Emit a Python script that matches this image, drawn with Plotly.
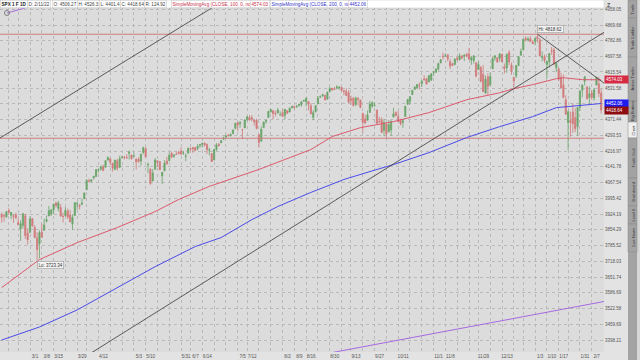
import math
import bisect
import plotly.graph_objects as go

# ---------------- data (SPX daily) ----------------
dates = [
    "2021-02-10","2021-02-11","2021-02-12","2021-02-16","2021-02-17","2021-02-18","2021-02-19","2021-02-22","2021-02-23","2021-02-24","2021-02-25","2021-02-26",
    "2021-03-01","2021-03-02","2021-03-03","2021-03-04","2021-03-05","2021-03-08","2021-03-09","2021-03-10","2021-03-11","2021-03-12","2021-03-15","2021-03-16","2021-03-17","2021-03-18","2021-03-19","2021-03-22","2021-03-23","2021-03-24","2021-03-25","2021-03-26","2021-03-29","2021-03-30","2021-03-31",
    "2021-04-01","2021-04-05","2021-04-06","2021-04-07","2021-04-08","2021-04-09","2021-04-12","2021-04-13","2021-04-14","2021-04-15","2021-04-16","2021-04-19","2021-04-20","2021-04-21","2021-04-22","2021-04-23","2021-04-26","2021-04-27","2021-04-28","2021-04-29","2021-04-30",
    "2021-05-03","2021-05-04","2021-05-05","2021-05-06","2021-05-07","2021-05-10","2021-05-11","2021-05-12","2021-05-13","2021-05-14","2021-05-17","2021-05-18","2021-05-19","2021-05-20","2021-05-21","2021-05-24","2021-05-25","2021-05-26","2021-05-27","2021-05-28",
    "2021-06-01","2021-06-02","2021-06-03","2021-06-04","2021-06-07","2021-06-08","2021-06-09","2021-06-10","2021-06-11","2021-06-14","2021-06-15","2021-06-16","2021-06-17","2021-06-18","2021-06-21","2021-06-22","2021-06-23","2021-06-24","2021-06-25","2021-06-28","2021-06-29","2021-06-30",
    "2021-07-01","2021-07-02","2021-07-06","2021-07-07","2021-07-08","2021-07-09","2021-07-12","2021-07-13","2021-07-14","2021-07-15","2021-07-16","2021-07-19","2021-07-20","2021-07-21","2021-07-22","2021-07-23","2021-07-26","2021-07-27","2021-07-28","2021-07-29","2021-07-30",
    "2021-08-02","2021-08-03","2021-08-04","2021-08-05","2021-08-06","2021-08-09","2021-08-10","2021-08-11","2021-08-12","2021-08-13","2021-08-16","2021-08-17","2021-08-18","2021-08-19","2021-08-20","2021-08-23","2021-08-24","2021-08-25","2021-08-26","2021-08-27","2021-08-30","2021-08-31",
    "2021-09-01","2021-09-02","2021-09-03","2021-09-07","2021-09-08","2021-09-09","2021-09-10","2021-09-13","2021-09-14","2021-09-15","2021-09-16","2021-09-17","2021-09-20","2021-09-21","2021-09-22","2021-09-23","2021-09-24","2021-09-27","2021-09-28","2021-09-29","2021-09-30",
    "2021-10-01","2021-10-04","2021-10-05","2021-10-06","2021-10-07","2021-10-08","2021-10-11","2021-10-12","2021-10-13","2021-10-14","2021-10-15","2021-10-18","2021-10-19","2021-10-20","2021-10-21","2021-10-22","2021-10-25","2021-10-26","2021-10-27","2021-10-28","2021-10-29",
    "2021-11-01","2021-11-02","2021-11-03","2021-11-04","2021-11-05","2021-11-08","2021-11-09","2021-11-10","2021-11-11","2021-11-12","2021-11-15","2021-11-16","2021-11-17","2021-11-18","2021-11-19","2021-11-22","2021-11-23","2021-11-24","2021-11-26","2021-11-29","2021-11-30",
    "2021-12-01","2021-12-02","2021-12-03","2021-12-06","2021-12-07","2021-12-08","2021-12-09","2021-12-10","2021-12-13","2021-12-14","2021-12-15","2021-12-16","2021-12-17","2021-12-20","2021-12-21","2021-12-22","2021-12-23","2021-12-27","2021-12-28","2021-12-29","2021-12-30","2021-12-31",
    "2022-01-03","2022-01-04","2022-01-05","2022-01-06","2022-01-07","2022-01-10","2022-01-11","2022-01-12","2022-01-13","2022-01-14","2022-01-18","2022-01-19","2022-01-20","2022-01-21","2022-01-24","2022-01-25","2022-01-26","2022-01-27","2022-01-28","2022-01-31",
    "2022-02-01","2022-02-02","2022-02-03","2022-02-04","2022-02-07","2022-02-08","2022-02-09","2022-02-10","2022-02-11",
]

opens = [
    3920.78,3916.40,3911.65,3939.61,3918.50,3915.86,3921.16,3885.55,3857.07,3873.71,3915.80,3839.66,
    3842.51,3903.64,3863.99,3818.53,3793.58,3844.39,3851.93,3891.99,3915.54,3924.52,3942.96,3973.59,3949.57,3953.50,3913.14,3916.48,3937.60,3919.93,3879.34,3917.12,3969.31,3963.34,3967.25,
    3992.78,4034.44,4075.57,4074.29,4089.95,4096.11,4124.71,4130.10,4141.58,4139.76,4174.14,4179.80,4159.18,4128.42,4170.46,4138.78,4185.03,4188.25,4185.14,4206.14,4198.10,
    4191.98,4179.04,4177.06,4169.14,4210.34,4228.29,4150.34,4130.55,4074.99,4129.58,4169.92,4165.94,4098.45,4121.97,4168.61,4170.16,4205.94,4191.59,4201.94,4210.77,
    4216.52,4206.82,4191.43,4206.05,4229.34,4233.81,4232.99,4228.56,4242.90,4248.31,4255.28,4248.87,4220.37,4204.78,4173.40,4224.61,4249.27,4256.97,4274.45,4284.90,4293.21,4290.65,
    4300.73,4326.60,4356.46,4351.01,4321.07,4329.38,4372.41,4381.07,4380.11,4369.02,4367.43,4296.40,4265.11,4331.13,4361.27,4381.20,4409.58,4416.38,4402.95,4403.59,4395.12,
    4406.86,4392.74,4415.95,4408.86,4429.07,4437.77,4435.79,4442.18,4446.08,4464.84,4461.65,4462.12,4440.94,4382.44,4410.56,4450.29,4484.40,4490.45,4493.75,4474.10,4513.76,4529.75,
    4528.80,4534.48,4532.42,4535.38,4518.09,4513.02,4506.92,4474.81,4479.33,4447.49,4477.09,4469.74,4402.95,4374.45,4367.43,4406.75,4438.04,4442.12,4419.54,4362.41,4370.67,
    4317.16,4348.84,4309.87,4319.57,4383.73,4406.51,4385.44,4368.31,4358.01,4386.75,4447.69,4463.72,4497.34,4524.42,4532.24,4546.12,4553.69,4578.69,4580.22,4562.84,4572.87,
    4610.62,4613.34,4630.65,4662.93,4699.26,4701.48,4707.25,4670.26,4659.39,4655.24,4689.30,4679.42,4701.50,4700.72,4708.44,4712.00,4678.48,4675.78,4664.63,4628.75,4640.25,
    4602.82,4504.73,4589.49,4548.37,4631.97,4690.86,4691.00,4687.64,4710.30,4642.99,4636.46,4719.13,4652.50,4587.90,4594.96,4650.36,4703.96,4733.99,4795.49,4788.64,4794.23,4775.21,
    4778.14,4804.51,4787.99,4693.39,4697.66,4655.34,4669.14,4728.59,4733.56,4637.99,4632.24,4588.03,4547.35,4471.38,4356.32,4366.64,4408.43,4380.58,4336.19,4431.79,
    4519.57,4566.39,4535.41,4482.79,4505.75,4480.02,4547.00,4553.24,4506.27,
]

highs = [
    3931.50,3925.99,3937.23,3950.43,3933.61,3921.98,3930.41,3902.92,3895.98,3928.65,3925.02,3861.08,
    3914.50,3906.41,3874.47,3843.67,3851.69,3881.06,3903.76,3917.35,3960.27,3944.99,3970.08,3981.04,3983.87,3969.62,3930.12,3955.31,3949.13,3942.08,3919.54,3978.19,3981.83,3968.01,3994.41,
    4020.63,4083.42,4086.23,4083.13,4098.19,4129.48,4131.76,4148.00,4151.69,4173.49,4191.31,4180.81,4159.18,4175.02,4179.57,4194.17,4194.19,4193.35,4201.53,4218.78,4198.10,
    4209.39,4179.04,4187.72,4202.70,4238.04,4236.39,4162.04,4134.73,4131.58,4183.13,4171.92,4169.15,4116.93,4172.80,4188.72,4209.52,4213.42,4202.61,4213.38,4218.36,
    4234.12,4217.37,4204.39,4233.45,4232.34,4236.74,4237.09,4249.74,4248.38,4255.59,4257.16,4251.89,4232.29,4204.78,4226.24,4255.84,4256.60,4271.28,4286.12,4292.14,4300.52,4302.43,
    4320.66,4355.43,4356.46,4361.88,4324.32,4371.60,4386.68,4392.37,4393.68,4369.02,4375.09,4296.40,4336.84,4359.70,4369.87,4415.18,4422.73,4416.38,4415.47,4429.97,4412.25,
    4422.18,4423.79,4416.17,4429.76,4440.82,4439.39,4445.21,4449.44,4461.77,4468.37,4480.26,4462.12,4454.32,4418.61,4444.35,4489.88,4492.81,4501.71,4495.90,4513.33,4537.36,4531.39,
    4537.11,4545.85,4541.45,4535.38,4521.79,4529.90,4520.47,4492.99,4485.68,4486.87,4485.87,4471.52,4402.95,4394.87,4416.75,4465.40,4463.12,4457.30,4419.54,4385.57,4382.55,
    4375.19,4355.51,4369.23,4365.57,4429.97,4412.02,4415.88,4374.89,4372.87,4439.73,4475.82,4488.75,4520.40,4540.87,4551.44,4559.67,4572.62,4598.53,4584.57,4597.55,4608.08,
    4620.34,4635.15,4663.46,4683.00,4718.50,4714.92,4708.53,4684.85,4664.55,4688.47,4697.42,4714.95,4701.50,4708.80,4717.75,4743.83,4699.39,4702.87,4664.63,4672.95,4646.02,
    4652.94,4595.46,4608.03,4612.60,4694.04,4705.06,4695.26,4713.57,4710.30,4660.47,4712.60,4731.99,4666.70,4587.90,4651.14,4697.67,4740.74,4791.49,4807.02,4804.06,4808.93,4786.83,
    4796.64,4818.62,4797.70,4725.01,4707.95,4673.02,4714.13,4748.83,4744.13,4665.13,4632.24,4611.55,4602.11,4494.52,4417.35,4411.01,4453.23,4428.74,4432.72,4516.89,
    4550.49,4595.31,4542.88,4539.66,4521.86,4531.32,4590.03,4588.92,4526.33,
]

lows = [
    3884.94,3890.39,3905.78,3923.85,3900.43,3885.03,3903.07,3874.71,3805.59,3859.60,3814.04,3789.54,
    3842.51,3868.57,3818.86,3723.34,3730.19,3819.25,3851.93,3885.73,3915.54,3915.21,3923.54,3953.44,3935.74,3910.86,3886.75,3914.16,3901.57,3889.07,3853.50,3917.12,3943.25,3944.35,3966.98,
    3992.78,4034.44,4068.14,4068.31,4082.54,4095.51,4114.82,4124.43,4120.87,4139.76,4170.75,4150.47,4118.38,4126.35,4123.69,4138.78,4182.36,4176.22,4181.78,4176.81,4174.85,
    4188.03,4128.59,4160.94,4147.33,4201.64,4188.13,4111.53,4056.88,4074.99,4129.58,4142.69,4125.99,4061.41,4121.97,4151.72,4170.16,4182.52,4184.11,4197.78,4203.57,
    4197.59,4198.27,4167.93,4206.05,4215.66,4208.41,4218.74,4220.34,4232.25,4234.07,4238.35,4202.45,4196.05,4164.40,4173.40,4217.27,4241.43,4256.97,4271.16,4274.67,4287.04,4287.96,
    4300.73,4326.60,4314.37,4329.79,4273.99,4329.38,4364.03,4366.92,4362.36,4340.70,4322.53,4233.13,4262.05,4331.13,4350.06,4381.20,4405.45,4372.51,4387.01,4403.59,4389.65,
    4384.81,4373.00,4400.23,4408.86,4429.07,4424.74,4430.03,4436.42,4435.96,4460.82,4437.66,4417.83,4397.59,4367.73,4406.80,4450.29,4482.28,4485.66,4468.99,4474.10,4513.76,4515.80,
    4522.02,4524.66,4521.94,4513.00,4493.95,4492.07,4457.66,4445.70,4435.46,4438.37,4443.80,4427.76,4305.91,4347.96,4367.43,4406.75,4430.27,4436.19,4346.33,4355.08,4306.24,
    4288.52,4278.94,4309.87,4290.49,4383.73,4386.22,4360.59,4342.09,4329.92,4386.75,4447.69,4447.47,4496.41,4524.40,4526.89,4524.00,4537.36,4569.17,4551.66,4562.84,4567.59,
    4595.06,4613.34,4621.19,4662.59,4681.32,4694.39,4670.87,4630.86,4648.31,4650.77,4672.86,4679.42,4684.41,4672.78,4694.22,4682.17,4652.66,4659.89,4585.43,4625.26,4560.00,
    4510.27,4504.73,4495.12,4540.51,4631.97,4674.52,4665.98,4670.24,4667.60,4606.52,4611.22,4651.89,4600.22,4531.10,4583.16,4645.53,4703.96,4733.99,4780.04,4778.08,4775.33,4765.75,
    4758.17,4774.27,4699.44,4671.26,4662.74,4582.24,4638.27,4706.71,4650.29,4614.75,4568.70,4530.20,4477.95,4395.34,4222.62,4287.11,4304.80,4309.50,4292.46,4414.02,
    4483.53,4544.32,4470.39,4451.50,4471.47,4465.40,4547.00,4484.31,4401.41,
]

closes = [
    3909.88,3916.38,3934.83,3932.59,3931.33,3913.97,3906.71,3876.50,3881.37,3925.43,3829.34,3811.15,
    3901.82,3870.29,3819.72,3768.47,3841.94,3821.35,3875.44,3898.81,3939.34,3943.34,3968.94,3962.71,3974.12,3915.46,3913.10,3940.59,3910.52,3889.14,3909.52,3974.54,3971.09,3958.55,3972.89,
    4019.87,4077.91,4073.94,4079.95,4097.17,4128.80,4127.99,4141.59,4124.66,4170.42,4185.47,4163.26,4134.94,4173.42,4134.98,4180.17,4187.62,4186.72,4183.18,4211.47,4181.17,
    4192.66,4164.66,4167.59,4201.62,4232.60,4188.43,4152.10,4063.04,4112.50,4173.85,4163.29,4127.83,4115.68,4159.12,4155.86,4197.05,4188.13,4195.99,4200.88,4204.11,
    4202.04,4208.12,4192.85,4229.89,4226.52,4227.26,4219.55,4239.18,4247.44,4255.15,4246.59,4223.70,4221.86,4166.45,4224.79,4246.44,4241.84,4266.49,4280.70,4290.61,4291.80,4297.50,
    4319.94,4352.34,4343.54,4358.13,4320.82,4369.55,4384.63,4369.21,4374.30,4360.03,4327.16,4258.49,4323.06,4358.69,4367.48,4411.79,4422.30,4401.46,4400.64,4419.15,4395.26,
    4387.16,4423.15,4402.66,4429.10,4436.52,4432.35,4436.75,4447.70,4460.83,4468.00,4479.71,4448.08,4400.27,4405.80,4441.67,4479.53,4486.23,4496.19,4470.00,4509.37,4528.79,4522.68,
    4524.09,4536.95,4535.43,4520.03,4514.07,4493.28,4458.58,4468.73,4443.05,4480.70,4473.75,4432.99,4357.73,4354.19,4395.64,4448.98,4455.48,4443.11,4352.63,4359.46,4307.54,
    4357.04,4300.46,4345.72,4363.55,4399.76,4391.34,4361.19,4350.65,4363.80,4438.26,4471.37,4486.46,4519.63,4536.19,4549.78,4544.90,4566.48,4574.79,4551.68,4596.42,4605.38,
    4613.67,4630.65,4660.57,4680.06,4697.53,4701.70,4685.25,4646.71,4649.27,4682.85,4682.80,4700.90,4688.67,4704.54,4697.96,4682.94,4690.70,4701.46,4594.62,4655.27,4567.00,
    4513.04,4577.10,4538.43,4591.67,4686.75,4701.21,4667.45,4712.02,4668.97,4634.09,4709.85,4668.67,4620.64,4568.02,4649.23,4696.56,4725.79,4791.19,4786.35,4793.06,4778.73,4766.18,
    4796.56,4793.54,4700.58,4696.05,4677.03,4670.29,4713.07,4726.35,4659.03,4662.85,4577.11,4532.76,4482.73,4397.94,4410.13,4356.45,4349.93,4326.51,4431.85,4515.55,
    4546.54,4589.38,4477.44,4500.53,4483.87,4521.54,4587.18,4504.08,4418.64,
]

# Simple moving averages
sma100_dates = ["2021-02-10","2021-03-05","2021-03-29","2021-04-22","2021-05-14","2021-05-28","2021-06-17","2021-07-19",
                "2021-08-18","2021-08-31","2021-09-17","2021-10-07","2021-10-28","2021-11-19","2021-12-10","2021-12-20",
                "2021-12-31","2022-01-14","2022-01-20","2022-02-01","2022-02-11"]
sma100_vals = [3608, 3725, 3798, 3864, 3935, 3990, 4050, 4129, 4224, 4287, 4331, 4361, 4406, 4471, 4507, 4528,
               4549, 4580, 4585, 4575, 4574.03]

sma200_dates = ["2021-02-10","2021-03-05","2021-03-29","2021-04-22","2021-05-14","2021-06-09","2021-06-24","2021-07-14",
                "2021-07-29","2021-08-18","2021-09-08","2021-09-28","2021-10-07","2021-10-28","2021-11-19","2021-12-10",
                "2021-12-31","2022-01-14","2022-01-24","2022-02-11"]
sma200_vals = [3398, 3449, 3517, 3607, 3695, 3781, 3820, 3899, 3958, 4022, 4082, 4129, 4152, 4209, 4282, 4336,
               4386, 4431, 4436, 4452.06]

# Drawings (bar-index, price)
chan_upper_x = [-2, 95];   chan_upper_y = [4271, 5015]
chan_lower_x = [30, 258];  chan_lower_y = [3304, 4852]
down_line_x = [227, 258];  down_line_y = [4818.62, 4532]
purple_x = [136, 258];     purple_y = [3343, 3556]
purple_short_x = [2.25, 9.9]; purple_short_y = [4937, 4965]
h_levels = [4818.62, 4278.94]

# Axis ticks
week_starts = ["2021-02-15","2021-02-22","2021-03-01","2021-03-08","2021-03-15","2021-03-22","2021-03-29","2021-04-05",
               "2021-04-12","2021-04-19","2021-04-26","2021-05-03","2021-05-10","2021-05-17","2021-05-24","2021-05-31",
               "2021-06-07","2021-06-14","2021-06-21","2021-06-28","2021-07-05","2021-07-12","2021-07-19","2021-07-26",
               "2021-08-02","2021-08-09","2021-08-16","2021-08-23","2021-08-30","2021-09-06","2021-09-13","2021-09-20",
               "2021-09-27","2021-10-04","2021-10-11","2021-10-18","2021-10-25","2021-11-01","2021-11-08","2021-11-15",
               "2021-11-22","2021-11-29","2021-12-06","2021-12-13","2021-12-20","2021-12-27","2022-01-03","2022-01-10",
               "2022-01-17","2022-01-24","2022-01-31","2022-02-07"]
week_labels = ["","","3/1","3/8","3/15","","3/29","","4/12","","","5/3","5/10","","","5/31","6/7","6/14","","",
               "7/5","7/12","","","8/2","8/9","8/16","","8/30","","9/13","","9/27","","10/11","","","11/1","11/8","",
               "","11/29","","12/13","","","1/3","1/10","1/17","","1/31","2/7"]
price_ticks = [4958.05, 4869.68, 4782.86, 4697.58, 4615.54, 4531.58, 4450.77, 4371.44, 4293.53, 4216.97, 4141.78,
               4067.54, 3995.42, 3924.19, 3854.29, 3785.52, 3718.03, 3651.74, 3586.69, 3522.58, 3459.69, 3398.21]

info_items = [("SPX 1 F 1D", "#222222", True), ("D: 2/11/22", "#444444", False), ("O: 4506.27", "#444444", False),
              ("H: 4526.33", "#444444", False), ("L: 4401.41", "#444444", False), ("C: 4418.64", "#444444", False),
              ("R: 124.92", "#444444", False), ("SimpleMovingAvg (CLOSE, 100, 0, no)", "#c8324a", False),
              ("4574.03", "#c8324a", False), ("SimpleMovingAvg (CLOSE, 200, 0, no)", "#3434c8", False),
              ("4452.06", "#3434c8", False)]
info_left_px = [0, 27, 52, 77, 99, 120, 144, 171, 250, 270, 348]

tabs = ["Trade", "Trade Ladder", "Active Trader", "Big Buttons", "Chart", "Trade Grid", "Dashboard", "Level II", "Live News"]
tab_edges_px = [0, 18, 57, 101, 122, 138, 178, 206, 224, 252]

# ---------------- figure ----------------
PLOT_W, PLOT_H = 604, 352
FONT = "Liberation Sans, Arial, sans-serif"
xpos = list(range(len(dates)))
pos_of = {d: i for i, d in enumerate(dates)}

fig = go.Figure()

fig.add_trace(go.Candlestick(
    x=xpos, open=opens, high=highs, low=lows, close=closes,
    increasing=dict(line=dict(color="#6aa46a", width=0.8), fillcolor="#6aa46a"),
    decreasing=dict(line=dict(color="#d27a7a", width=0.8), fillcolor="#d27a7a"),
    whiskerwidth=0, hoverinfo="skip"))

for lvl in h_levels:
    fig.add_trace(go.Scatter(x=[-5, 270], y=[lvl, lvl], mode="lines",
                             line=dict(color="#cd7d7d", width=1), hoverinfo="skip"))

fig.add_trace(go.Scatter(x=[pos_of[d] for d in sma100_dates], y=sma100_vals, mode="lines",
                         line=dict(color="#dc5a6e", width=1), hoverinfo="skip"))
fig.add_trace(go.Scatter(x=[pos_of[d] for d in sma200_dates], y=sma200_vals, mode="lines",
                         line=dict(color="#4b4bea", width=1), hoverinfo="skip"))

for lx, ly in [(chan_upper_x, chan_upper_y), (chan_lower_x, chan_lower_y), (down_line_x, down_line_y)]:
    fig.add_trace(go.Scatter(x=lx, y=ly, mode="lines", line=dict(color="#3a3a3a", width=0.8), hoverinfo="skip"))
fig.add_trace(go.Scatter(x=purple_x, y=purple_y, mode="lines", line=dict(color="#a56ae0", width=1), hoverinfo="skip"))
fig.add_trace(go.Scatter(x=purple_short_x, y=purple_short_y, mode="lines", line=dict(color="#a56ae0", width=1), hoverinfo="skip"))
fig.add_trace(go.Scatter(x=[purple_short_x[0]], y=[purple_short_y[0]], mode="markers",
                         marker=dict(symbol="circle-open", size=5, color="#808080", line=dict(width=1)), hoverinfo="skip"))

tick_pos = [bisect.bisect_left(dates, w) for w in week_starts]

fig.update_layout(
    width=640, height=360,
    margin=dict(l=0, r=640 - PLOT_W, t=0, b=360 - PLOT_H, pad=0),
    paper_bgcolor="#e3e3e3", plot_bgcolor="#dcdcdc",
    showlegend=False,
    font=dict(family=FONT, size=5, color="#555555"),
    xaxis=dict(type="linear", range=[-0.71, 255.2], tickmode="array", tickvals=tick_pos, ticktext=week_labels,
               ticks="", tickangle=0, showgrid=True, gridcolor="#b9b9b9", griddash="dot", gridwidth=1,
               zeroline=False, showline=False, tickfont=dict(size=4.6, color="#555555"),
               ticklabelshift=5, ticklabelstandoff=0,
               rangeslider=dict(visible=False), automargin=False, fixedrange=True),
    yaxis=dict(type="log", side="right", range=[3.5253, 3.6999], tickmode="array", tickvals=price_ticks,
               ticktext=[f"{v:.2f}" for v in price_ticks], ticks="", showgrid=True, gridcolor="#b9b9b9",
               griddash="dot", gridwidth=1, zeroline=False, showline=False,
               tickfont=dict(size=4.5, color="#555555"), automargin=False, fixedrange=True),
)

shapes = []
annotations = []

# info bar
bar_h = 8 / PLOT_H
shapes.append(dict(type="rect", xref="paper", yref="paper", x0=0, x1=1, y0=1 - bar_h, y1=1,
                   fillcolor="white", line=dict(color="#c4c4c4", width=0.5), layer="above"))
for (txt, col, bold), lp in zip(info_items, info_left_px):
    annotations.append(dict(xref="paper", yref="paper", x=lp / PLOT_W, y=1, xanchor="left", yanchor="top",
                            text=f"<b>{txt}</b>" if bold else txt, showarrow=False,
                            font=dict(family=FONT, size=4.6, color=col), bgcolor="white",
                            bordercolor="#c4c4c4", borderwidth=0.5, borderpad=1))

# Hi / Lo labels
hi_i = max(range(len(highs)), key=lambda i: highs[i])
lo_i = min(range(len(lows)), key=lambda i: lows[i])
annotations.append(dict(x=hi_i, y=math.log10(highs[hi_i]), xref="x", yref="y", xanchor="left", yanchor="bottom",
                        yshift=1, text=f"Hi: {highs[hi_i]:.2f}", showarrow=False,
                        font=dict(family=FONT, size=4.5, color="#333333"), bgcolor="#f2f2f2",
                        bordercolor="#8a8a8a", borderwidth=0.5, borderpad=1))
annotations.append(dict(x=lo_i, y=math.log10(lows[lo_i]), xref="x", yref="y", xanchor="left", yanchor="top",
                        yshift=-1, text=f"Lo: {lows[lo_i]:.2f}", showarrow=False,
                        font=dict(family=FONT, size=4.5, color="#333333"), bgcolor="#f2f2f2",
                        bordercolor="#8a8a8a", borderwidth=0.5, borderpad=1))

# right price tags
for val, col in [(sma100_vals[-1], "#d62b45"), (sma200_vals[-1], "#1c1cf0"), (closes[-1], "#8c0c10")]:
    annotations.append(dict(x=1, y=math.log10(val), xref="paper", yref="y", xanchor="left", yanchor="middle",
                            text=f"{val:.2f}", showarrow=False, width=21, align="left",
                            font=dict(family=FONT, size=4.5, color="white"), bgcolor=col, borderpad=1))

# zoom icon
annotations.append(dict(x=609 / PLOT_W, y=1, xref="paper", yref="paper", xanchor="center", yanchor="top",
                        text="<b>Z</b>", showarrow=False, font=dict(family=FONT, size=5.5, color="#555555")))

# side tab panel
def py(px):
    return 1 - px / PLOT_H

shapes.append(dict(type="rect", xref="paper", yref="paper", x0=628 / PLOT_W, x1=637 / PLOT_W, y0=py(360), y1=1,
                   fillcolor="#a3a3a3", line=dict(width=0), layer="above"))
shapes.append(dict(type="rect", xref="paper", yref="paper", x0=637 / PLOT_W, x1=641 / PLOT_W, y0=py(360), y1=1,
                   fillcolor="#d6d6d6", line=dict(width=0), layer="above"))
for i, name in enumerate(tabs):
    y0, y1 = tab_edges_px[i], tab_edges_px[i + 1]
    sel = name == "Chart"
    shapes.append(dict(type="rect", xref="paper", yref="paper", x0=628 / PLOT_W, x1=637 / PLOT_W,
                       y0=py(y1), y1=py(y0), fillcolor="#f0f0f0" if sel else "#a3a3a3",
                       line=dict(color="#8a8a8a", width=0.5), layer="above"))
    annotations.append(dict(x=632.5 / PLOT_W, y=py((y0 + y1) / 2), xref="paper", yref="paper",
                            xanchor="center", yanchor="middle", text=name, textangle=-90, showarrow=False,
                            font=dict(family=FONT, size=4, color="#333333")))

fig.update_layout(shapes=shapes, annotations=annotations)
fig.write_html("out.html", config={"displayModeBar": False, "staticPlot": True},
               post_script="document.body.style.margin='0';document.body.style.padding='0';"
                           "document.documentElement.style.overflow='hidden';")
